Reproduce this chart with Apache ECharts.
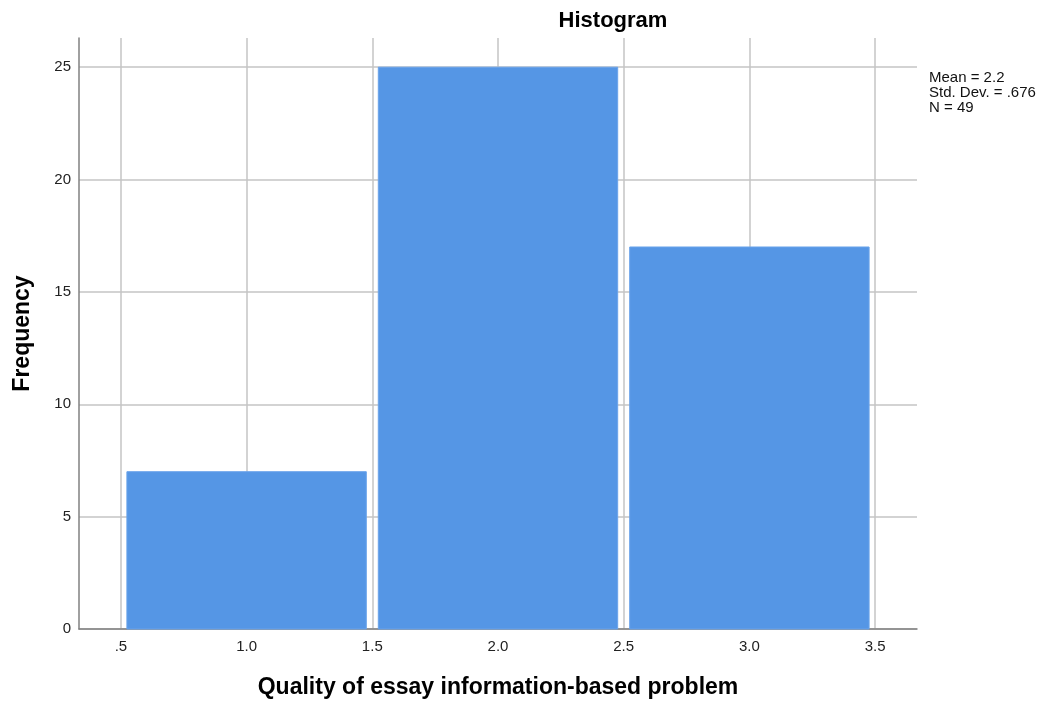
<!DOCTYPE html>
<html>
<head>
<meta charset="utf-8">
<script src="https://cdn.jsdelivr.net/npm/echarts@6/dist/echarts.min.js"></script>
<style>html,body{margin:0;padding:0;background:#fff;}#c{width:1044px;height:702px;}</style>
</head>
<body>
<div id="c"></div>
<script>
const binStarts = [0.5, 1.5, 2.5];
const binEnds = [1.5, 2.5, 3.5];
const frequencies = [7, 25, 17];
const xTicks = [0.5, 1.0, 1.5, 2.0, 2.5, 3.0, 3.5];
const yTicks = [0, 5, 10, 15, 20, 25];
const statsLines = ['Mean = 2.2', 'Std. Dev. = .676', 'N = 49'];

const FONT = '"Liberation Sans", Arial, sans-serif';
const chart = echarts.init(document.getElementById('c'), null, {renderer: 'canvas'});
const data = binStarts.map((s, i) => [s, binEnds[i], frequencies[i]]);

chart.setOption({
  animation: false,
  backgroundColor: '#fff',
  title: {
    text: 'Histogram',
    left: 608, top: 5, textAlign: 'center',
    textStyle: {fontFamily: FONT, fontSize: 22, fontWeight: 'bold', color: '#000'}
  },
  graphic: [{
    type: 'text', left: 929, top: 70,
    style: {text: statsLines.join('\n'), font: '15px ' + FONT, fill: '#111', lineHeight: 15}
  }],
  grid: {left: 79, right: 127, top: 38, bottom: 73, containLabel: false, outerBoundsMode: 'none'},
  xAxis: {
    type: 'value', min: 1/3, max: 11/3,
    name: 'Quality of essay information-based problem',
    nameLocation: 'middle', nameGap: 47,
    nameTextStyle: {fontFamily: FONT, fontSize: 23, fontWeight: 'bold', color: '#000'},
    axisLine: {show: true, onZero: false, lineStyle: {color: '#808080', width: 1.5}},
    axisTick: {show: false, customValues: xTicks},
    axisLabel: {
      customValues: xTicks, margin: 10, color: '#222', fontFamily: FONT, fontSize: 15,
      formatter: v => { const s = v.toFixed(1); return s.startsWith('0') ? s.slice(1) : s; }
    },
    splitLine: {show: true, lineStyle: {color: '#c4c4c4', width: 1.5}}
  },
  yAxis: {
    type: 'value', min: 0, max: 26.3,
    name: 'Frequency', nameLocation: 'middle', nameGap: 45,
    nameTextStyle: {fontFamily: FONT, fontSize: 23, fontWeight: 'bold', color: '#000'},
    axisLine: {show: true, lineStyle: {color: '#808080', width: 1.5}},
    axisTick: {show: false, customValues: yTicks},
    axisLabel: {customValues: yTicks, margin: 8, color: '#222', fontFamily: FONT, fontSize: 15},
    splitLine: {show: true, lineStyle: {color: '#c4c4c4', width: 1.5}}
  },
  series: [{
    type: 'custom',
    data: data,
    encode: {x: [0, 1], y: 2},
    renderItem: function (params, api) {
      const p0 = api.coord([api.value(0), api.value(2)]);
      const p1 = api.coord([api.value(1), 0]);
      const inset = 6;
      return {
        type: 'rect',
        shape: {x: p0[0] + inset, y: p0[1], width: p1[0] - p0[0] - 2 * inset, height: p1[1] - p0[1]},
        style: {fill: '#5596e5', stroke: '#6aa3ea', lineWidth: 1}
      };
    },
    z: 3
  }]
});
</script>
</body>
</html>
